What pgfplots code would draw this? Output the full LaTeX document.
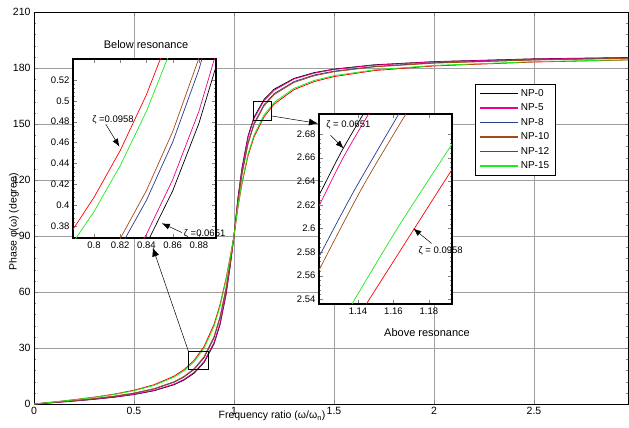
\documentclass[border=0pt]{standalone}
\usepackage{fontspec}
\setmainfont{Liberation Sans}
\usepackage{pgfplots}
\usepackage{pgfplotstable}
\pgfplotsset{compat=1.18}
\usetikzlibrary{arrows.meta}
\definecolor{npblue}{RGB}{40,60,140}
\definecolor{npbrown}{RGB}{165,75,25}
\definecolor{npgreen}{RGB}{30,235,30}
\definecolor{gridgray}{RGB}{160,160,160}

% main curves: phase in degrees
\pgfplotstableread{
r     K      M      Bl     Br     R      G
0     0      0      0      0      0      0
0.1   0.77   0.79   0.87   0.89   1.12   1.08
0.2   1.59   1.63   1.79   1.84   2.32   2.23
0.3   2.51   2.58   2.83   2.91   3.66   3.53
0.4   3.62   3.73   4.09   4.19   5.28   5.09
0.5   5.07   5.21   5.72   5.86   7.38   7.11
0.6   7.11   7.31   8.01   8.22   10.32  9.94
0.7   10.34  10.64  11.65  11.94  14.92  14.40
0.75  12.84  13.20  14.44  14.79  18.41  17.77
0.8   16.46  16.91  18.45  18.89  23.33  22.56
0.85  22.17  22.73  24.71  25.25  30.75  29.80
0.9   32.20  32.94  35.43  36.10  42.61  41.53
0.93  42.46  43.23  45.96  46.67  53.20  52.16
0.96  58.45  59.16  61.47  62.07  67.19  66.41
0.98  73.10  73.54  74.94  75.30  78.25  77.80
1.0   90     90     90     90     90     90
1.02  110.6  110.2  108.8  108.4  105.5  106.0
1.04  126.5  125.8  123.6  123.0  118.0  118.8
1.07  143.5  142.7  140.0  139.3  132.9  133.9
1.1   153.6  152.9  150.3  149.6  143.0  144.1
1.15  163.1  162.5  160.3  159.7  153.8  154.8
1.2   168.6  168.0  166.2  165.7  160.6  161.5
1.3   174.4  174.1  172.7  172.3  168.4  169.1
1.4   177.5  177.2  176.2  175.8  172.7  173.3
1.5   179.4  179.2  178.3  178.0  175.4  175.9
1.7   181.7  181.5  180.8  180.6  178.6  179.0
2.0   183.4  183.3  182.8  182.6  181.1  181.4
2.5   184.9  184.8  184.4  184.3  183.2  183.4
2.97  185.6  185.5  185.2  185.2  184.3  184.4
}\maintab

% below resonance inset (rad)
\pgfplotstableread{
r     K       M       Bl      Br      R       G
0.78  0.2590  0.2660  0.2908  0.2977  0.3691  0.3567
0.80  0.2874  0.2951  0.3221  0.3298  0.4074  0.3937
0.82  0.3213  0.3299  0.3596  0.3679  0.4523  0.4378
0.84  0.3626  0.3721  0.4047  0.4141  0.5059  0.4900
0.86  0.4137  0.4244  0.4604  0.4704  0.5704  0.5530
0.88  0.4784  0.4900  0.5299  0.5409  0.6488  0.6299
0.90  0.5620  0.5750  0.6183  0.6299  0.7436  0.7249
}\belowtab

\pgfplotsset{
  myax/.style={scale only axis, anchor=south west, tick align=inside,
    axis line style={line width=0.9pt},
    /pgf/number format/assume math mode=true,
    major tick length=4pt, minor tick length=2.2pt},
  inset/.style={myax, axis background/.style={fill=white}, clip mode=individual,
    tick label style={font=\fontsize{9.5}{11}\selectfont},
    minor y tick num=4, axis line style={line width=1.1pt}},
}
\newcommand{\annfont}{\fontsize{9.5}{11}\selectfont}

\begin{document}
\begin{tikzpicture}
\useasboundingbox (0,0) rectangle (629pt,-428pt);

\begin{axis}[myax, at={(34pt,-404pt)}, width=594.5pt, height=392pt,
  xmin=0, xmax=2.9725, ymin=0, ymax=210,
  xtick={0,0.5,1,1.5,2,2.5}, ytick={0,30,...,210}, minor y tick num=4,
  grid=major, major grid style={gridgray, line width=0.6pt},
  tick label style={font=\fontsize{10.5}{12}\selectfont},
  legend cell align=left,
  legend style={at={(0.7418,0.8163)}, anchor=north west,
    font=\fontsize{10}{11}\selectfont, inner xsep=4pt, inner ysep=3pt,
    row sep=2pt, thick},
  legend image code/.code={\draw[#1, line width=1.4pt] (0pt,0pt) -- (38pt,0pt);},
]
\addplot[black, line width=0.8pt] table[x=r,y=K]{\maintab};
\addplot[magenta, line width=0.8pt] table[x=r,y=M]{\maintab};
\addplot[npblue, line width=0.8pt] table[x=r,y=Bl]{\maintab};
\addplot[npbrown, line width=0.8pt] table[x=r,y=Br]{\maintab};
\addplot[red, line width=0.8pt] table[x=r,y=R]{\maintab};
\addplot[npgreen, line width=0.8pt] table[x=r,y=G]{\maintab};
\legend{NP-0,NP-5,NP-8,NP-10,NP-12,NP-15}
\draw[black, line width=0.6pt] (axis cs:0.7715,18.75) rectangle (axis cs:0.8715,28.4);
\draw[black, line width=0.6pt] (axis cs:1.0965,152.1) rectangle (axis cs:1.1885,161.9);
\coordinate (b1) at (axis cs:0.7715,28.4);
\coordinate (b1tip) at (axis cs:0.5935,83.9);
\coordinate (b2) at (axis cs:1.1885,154.3);
\coordinate (b2tip) at (axis cs:1.42,150.3);
\end{axis}

% Below resonance inset
\begin{axis}[inset, at={(73pt,-238pt)}, width=143pt, height=179pt,
  xmin=0.784, xmax=0.893, ymin=0.3685, ymax=0.54,
  xtick={0.8,0.82,0.84,0.86,0.88}, ytick={0.38,0.4,0.42,0.44,0.46,0.48,0.5,0.52}]
\addplot[black, line width=0.7pt] table[x=r,y=K]{\belowtab};
\addplot[magenta, line width=0.7pt] table[x=r,y=M]{\belowtab};
\addplot[npblue, line width=0.7pt] table[x=r,y=Bl]{\belowtab};
\addplot[npbrown, line width=0.7pt] table[x=r,y=Br]{\belowtab};
\addplot[red, line width=0.7pt] table[x=r,y=R]{\belowtab};
\addplot[npgreen, line width=0.7pt] table[x=r,y=G]{\belowtab};
\node[font=\annfont] at (axis cs:0.8145,0.482) {ζ =0.0958};
\draw[-{Latex[length=8pt,width=6pt]}, line width=0.5pt] (axis cs:0.809,0.4775) -- (axis cs:0.8194,0.456);
\node[font=\annfont, anchor=west, inner sep=0.5pt] at (axis cs:0.868,0.3724) {ζ =0.0651};
\draw[-{Latex[length=8pt,width=6pt]}, line width=0.5pt] (axis cs:0.8671,0.3737) -- (axis cs:0.8517,0.3826);
\end{axis}

% Above resonance inset
\begin{axis}[inset, at={(319pt,-304pt)}, width=133pt, height=190pt,
  xmin=1.118, xmax=1.193, ymin=2.536, ymax=2.697,
  xtick={1.14,1.16,1.18}, ytick={2.54,2.56,2.58,2.6,2.62,2.64,2.66,2.68}]
\addplot[black, line width=0.7pt, smooth] coordinates {(1.118,2.628) (1.1306,2.6650) (1.143,2.697)};
\addplot[magenta, line width=0.7pt, smooth] coordinates {(1.118,2.619) (1.132,2.661) (1.146,2.697)};
\addplot[npblue, line width=0.7pt, smooth] coordinates {(1.118,2.576) (1.138,2.6325) (1.163,2.697)};
\addplot[npbrown, line width=0.7pt, smooth] coordinates {(1.118,2.5647) (1.1425,2.635) (1.167,2.697)};
\addplot[npgreen, line width=0.7pt, smooth] coordinates {(1.1366,2.536) (1.1626,2.601) (1.193,2.6715)};
\addplot[red, line width=0.7pt, smooth] coordinates {(1.1447,2.536) (1.1712,2.5986) (1.193,2.650)};
\node[font=\annfont, anchor=west, inner sep=0.5pt] at (axis cs:1.1217,2.6876) {ζ = 0.0651};
\draw[-{Latex[length=8pt,width=6pt]}, line width=0.5pt] (axis cs:1.1245,2.679) -- (axis cs:1.1319,2.6679);
\node[font=\annfont, anchor=west, inner sep=0.5pt] at (axis cs:1.1738,2.581) {ζ = 0.0958};
\draw[-{Latex[length=8pt,width=6pt]}, line width=0.5pt] (axis cs:1.1815,2.5873) -- (axis cs:1.1712,2.600);
\end{axis}

\draw[-{Latex[length=9pt,width=7pt]}, line width=0.5pt] (b1) -- (b1tip);
\draw[-{Latex[length=9pt,width=7pt]}, line width=0.5pt] (b2) -- (b2tip);

\node[font=\fontsize{11}{13}\selectfont] at (146pt,-45pt) {Below resonance};
\node[font=\fontsize{11}{13}\selectfont] at (427pt,-333pt) {Above resonance};
\node[rotate=90, font=\fontsize{10.5}{12}\selectfont] at (14pt,-222pt) {Phase φ(ω) (degree)};
\node[font=\fontsize{10.5}{12}\selectfont] at (272pt,-416pt) {Frequency ratio (ω/ω\textsubscript{n})};
\end{tikzpicture}
\end{document}
